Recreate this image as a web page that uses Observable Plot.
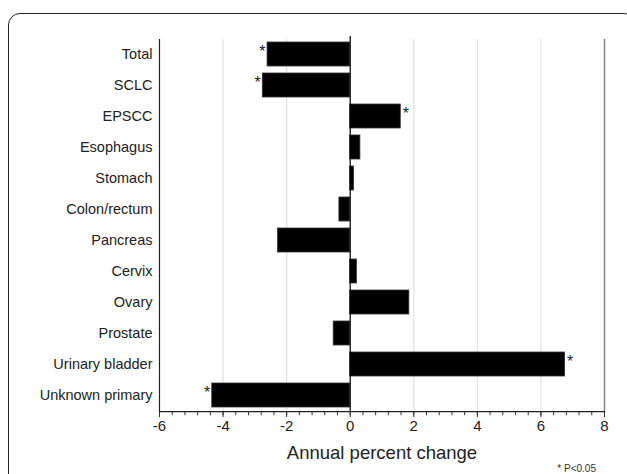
<!DOCTYPE html>
<html>
<head>
<meta charset="utf-8">
<script src="https://cdn.jsdelivr.net/npm/d3@7"></script>
<script src="https://cdn.jsdelivr.net/npm/@observablehq/plot@0.6"></script>
<style>
  html, body { margin: 0; padding: 0; background: #fff; }
  #wrap { position: relative; width: 627px; height: 474px; overflow: hidden; font-family: "Liberation Sans", Arial, sans-serif; }
  #box { position: absolute; left: 8px; top: 13px; width: 628px; height: 520px; border: 1.5px solid #222; border-radius: 12px; box-sizing: border-box; pointer-events: none; }
  #chart svg { display: block; }
  #chart svg [aria-label="x-axis label"] text { font-size: 18.5px; }
  #note { height: 10px; line-height: 10px; font-size: 10px; color: #333; text-align: right; padding-right: 31px; }
</style>
</head>
<body>
<div id="wrap">
  <div id="box"></div>
  <div id="chart"></div>
  <div id="note">* P&lt;0.05</div>
</div>
<script>
const categories = ["Total", "SCLC", "EPSCC", "Esophagus", "Stomach", "Colon/rectum", "Pancreas", "Cervix", "Ovary", "Prostate", "Urinary bladder", "Unknown primary"];
const apc = [-2.6, -2.75, 1.59, 0.32, 0.12, -0.34, -2.27, 0.21, 1.86, -0.52, 6.76, -4.34];
const significant = [true, true, true, false, false, false, false, false, false, false, true, true];
const majorTicks = [-6, -4, -2, 0, 2, 4, 6, 8];
const gridTicks = [-4, -2, 2, 4, 6];
const minorTicks = d3.range(-6, 8.001, 0.4);

const data = categories.map((c, i) => ({category: c, value: apc[i], sig: significant[i]}));

const chart = Plot.plot({
  width: 627,
  height: 464,
  marginTop: 39,
  marginBottom: 52.8,
  marginLeft: 159,
  marginRight: 23,
  style: {fontFamily: '"Liberation Sans", Arial, sans-serif', fontSize: "14px", color: "#222", background: "transparent"},
  x: {domain: [-6, 8]},
  y: {domain: categories, paddingInner: 0.21, paddingOuter: 0.105},
  marks: [
    Plot.ruleX(gridTicks, {stroke: "#dcdcdc", strokeWidth: 1}),
    Plot.frame({anchor: "right", stroke: "#888", strokeWidth: 1.5}),
    Plot.barX(data, {x: "value", y: "category", fill: "#000", stroke: "#333", strokeWidth: 0.8}),
    Plot.ruleX([0], {stroke: "#000", strokeWidth: 1.2, insetTop: -3}),
    Plot.text(data.filter(d => d.sig && d.value < 0), {x: "value", y: "category", text: () => "*", textAnchor: "end", dx: -2, dy: -3, fontSize: 16}),
    Plot.text(data.filter(d => d.sig && d.value > 0), {x: "value", y: "category", text: () => "*", textAnchor: "start", dx: 2, dy: -3, fontSize: 16}),
    Plot.axisY({tickSize: 0, tickPadding: 7, label: null, fontSize: 14.5}),
    Plot.frame({anchor: "left", stroke: "#222", strokeWidth: 1.2}),
    Plot.axisX({ticks: minorTicks, tickSize: 4, text: null, label: null, stroke: "#333"}),
    Plot.axisX({ticks: majorTicks, tickSize: 6, tickPadding: 3, fontSize: 15, tickFormat: d => String(d), label: "Annual percent change", labelAnchor: "center", labelArrow: "none", labelOffset: 47, stroke: "#333"}),
    Plot.frame({anchor: "bottom", stroke: "#222", strokeWidth: 1.2})
  ]
});
document.getElementById("chart").appendChild(chart);
</script>
</body>
</html>
